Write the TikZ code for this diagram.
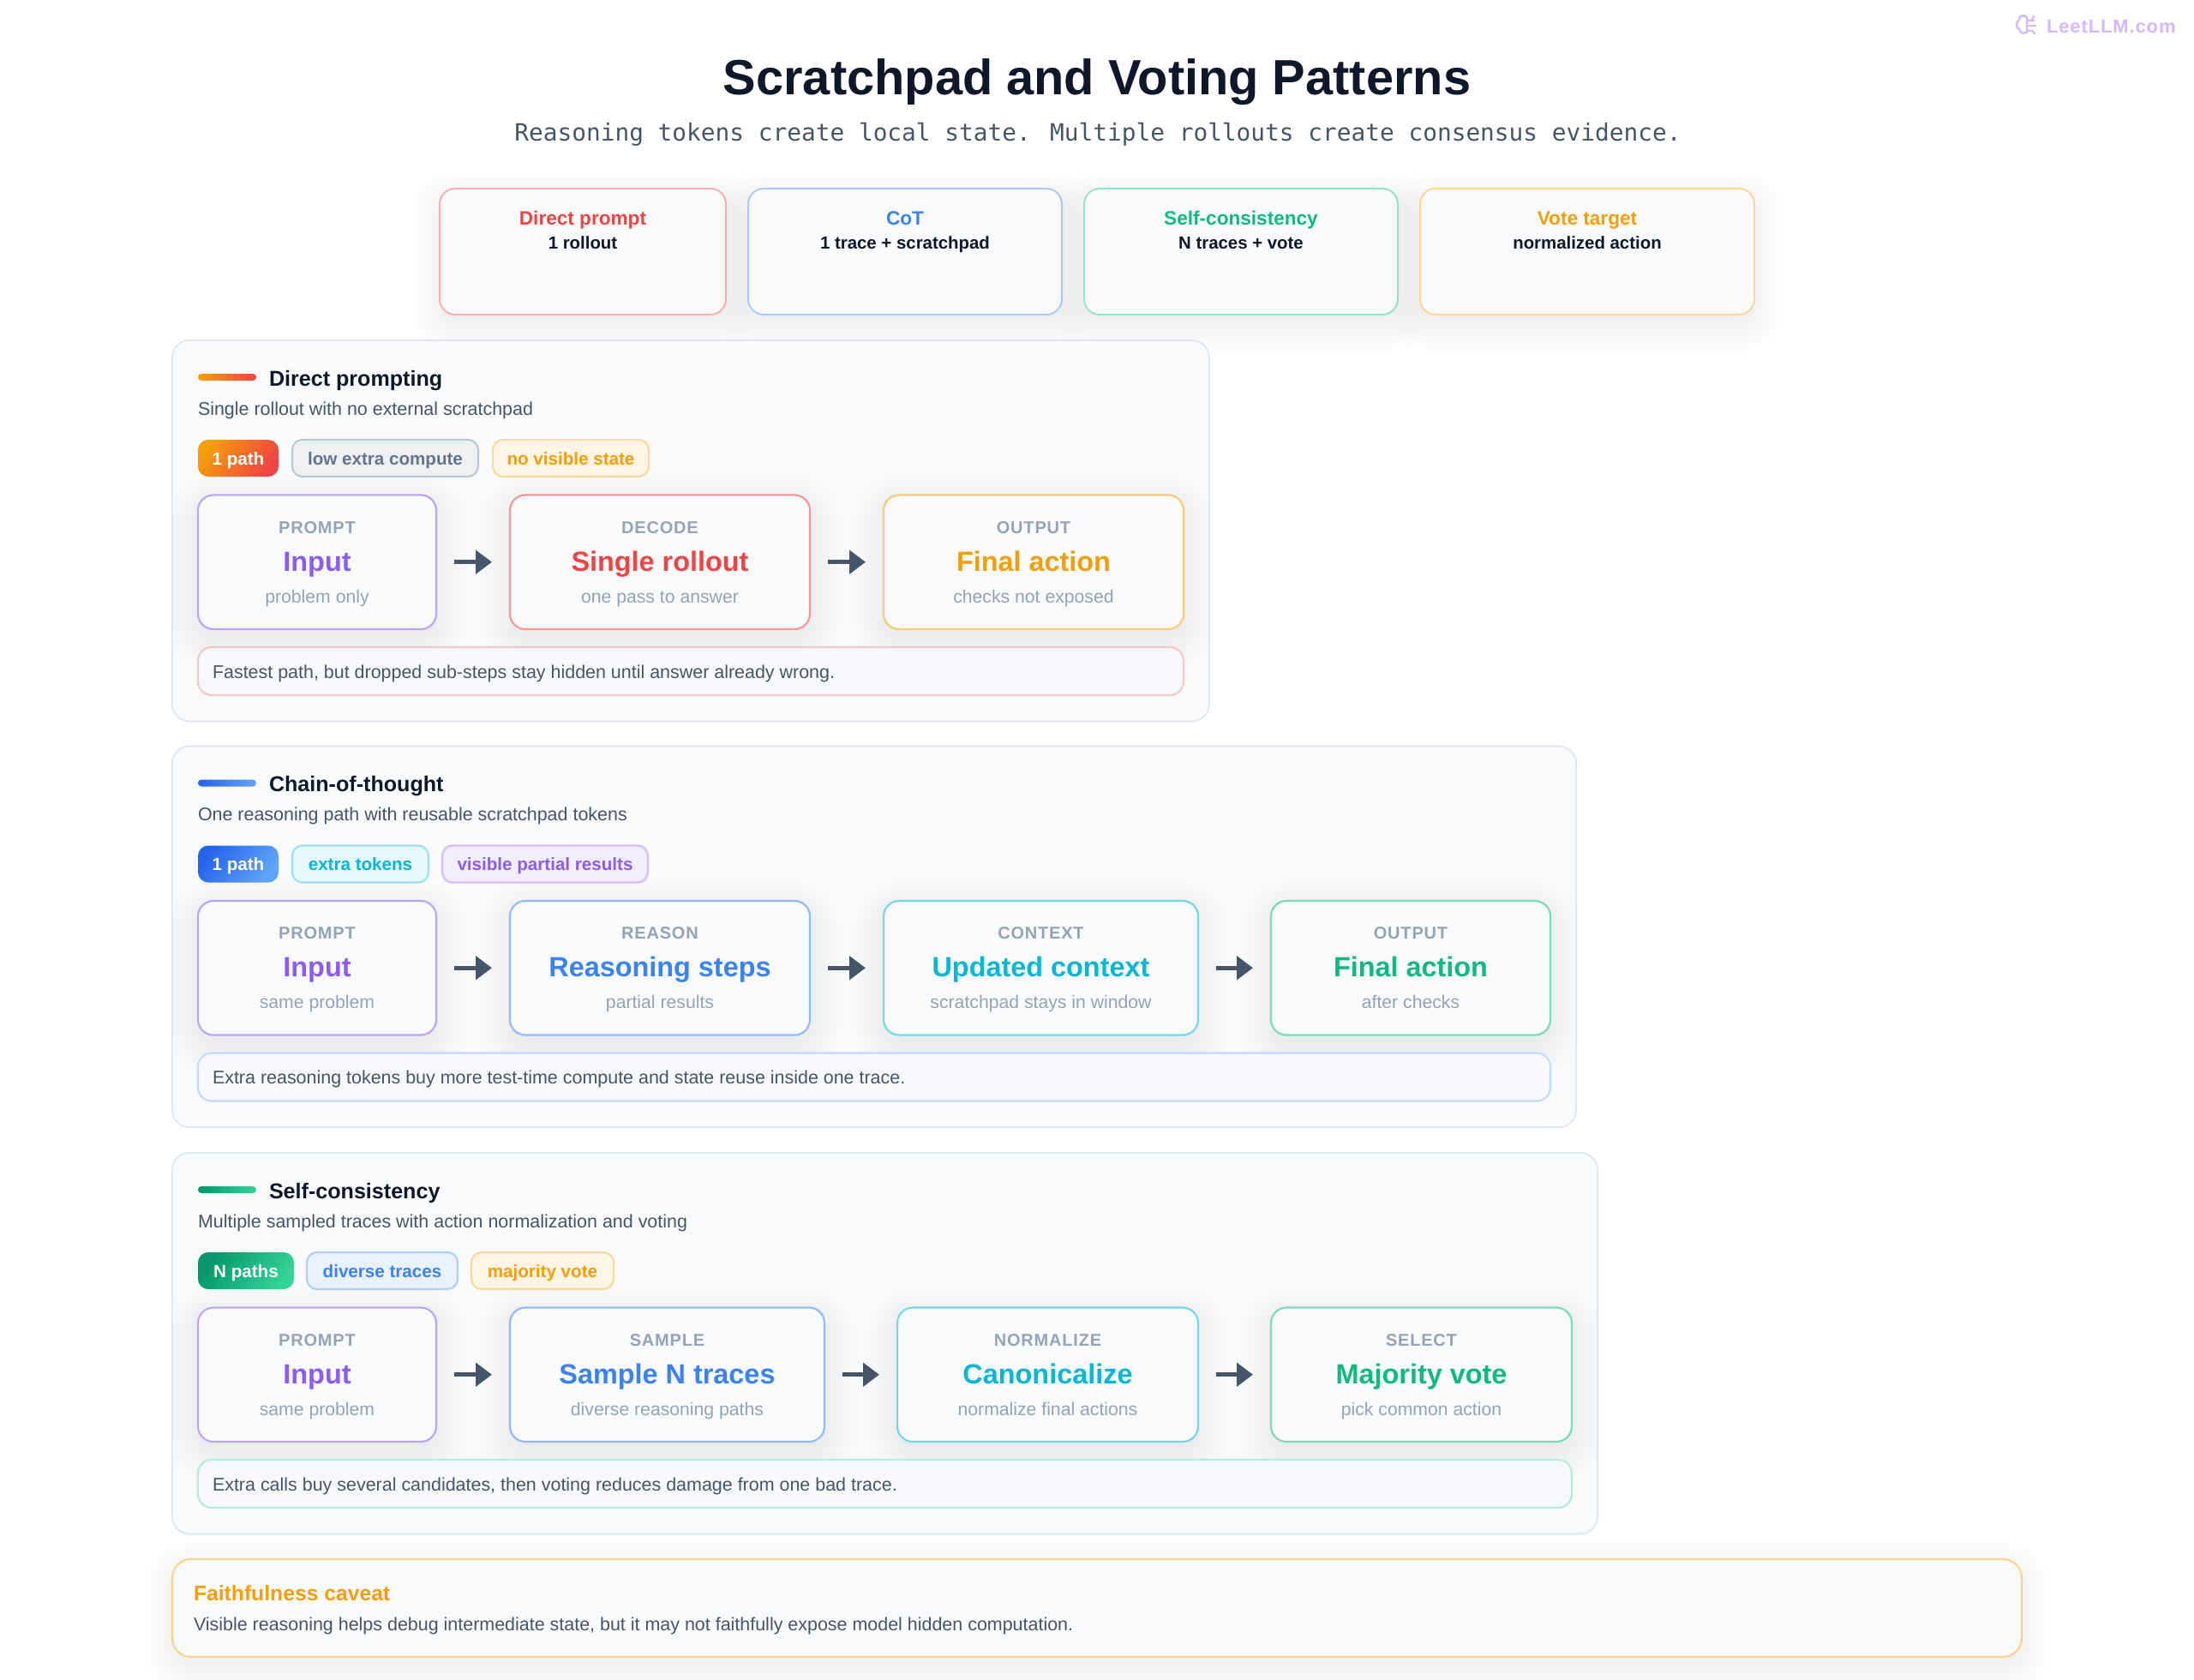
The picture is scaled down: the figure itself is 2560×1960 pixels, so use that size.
\documentclass[tikz,border=0pt]{standalone}
\usepackage{fontspec}
\setmainfont{Liberation Sans}
\newfontfamily\monof{DejaVu Sans Mono}
\newfontfamily\labelf[LetterSpace=4]{Liberation Sans}
\usetikzlibrary{arrows.meta}
\definecolor{ink}{HTML}{0F172A}
\definecolor{slatet}{HTML}{475569}
\definecolor{mutedt}{HTML}{94A3B8}
\definecolor{cardbg}{HTML}{F8FAFC}
\definecolor{notebg}{HTML}{F6F8FB}
\definecolor{panelln}{HTML}{E2E8F0}
\definecolor{cviolet}{HTML}{8B5CF6}
\definecolor{cred}{HTML}{EF4444}
\definecolor{cblue}{HTML}{3B82F6}
\definecolor{ccyan}{HTML}{06B6D4}
\definecolor{cgreen}{HTML}{10B981}
\definecolor{camber}{HTML}{F59E0B}
\definecolor{cgray}{HTML}{64748B}
\definecolor{logoc}{HTML}{D3B8FD}
\definecolor{gblue}{HTML}{2563EB}
\definecolor{gbluel}{HTML}{60A5FA}
\definecolor{ggreen}{HTML}{059669}
\definecolor{ggreenl}{HTML}{34D399}
\newcommand\fs[1]{\fontsize{#1}{#1}\selectfont}
\tikzset{
  x=1pt,y=-1pt,
  boxbase/.style={rectangle,outer sep=0pt,inner sep=0pt,fill=cardbg},
  txt/.style={inner sep=0pt,outer sep=0pt,anchor=base},
  txtl/.style={inner sep=0pt,outer sep=0pt,anchor=base west},
  flow/.style={line width=5pt,draw=slatet,shorten <=21pt,shorten >=21pt,
    -{Triangle[length=19pt,width=27pt]}},
  shadowlayer/.style={fill=ink,opacity=.0042},
}
% soft shadow: x1 y1 x2 y2 radius
\newcommand\softshadow[5]{%
  \foreach \e in {36,33,...,-6}{%
    \pgfmathsetmacro\rr{max(2,#5+\e)}%
    \fill[shadowlayer,rounded corners=\rr pt]
      ({#1-\e},{#2-\e+12}) rectangle ({#3+\e},{#4+\e+12});
  }%
}
% name x1 y1 x2 y2 radius style
\newcommand\rbox[7]{%
  \node[boxbase,rounded corners=#6pt,minimum width={((#4)-(#2))*1pt},minimum height={((#5)-(#3))*1pt},#7]
    (#1) at ({((#2)+(#4))/2},{((#3)+(#5))/2}) {};%
}
% top legend: name x1 x2 col head sub
\newcommand\legend[6]{%
  \softshadow{#2}{220}{#3}{367}{18}%
  \rbox{#1}{#2}{220}{#3}{367}{18}{draw=#4!42!white,line width=2pt}%
  \node[txt,font=\bfseries\fs{22.6},text=#4] (#1h) at ({(#2+#3)/2},262) {#5};%
  \node[txt,font=\bfseries\fs{20.4},text=ink] (#1s) at ({(#2+#3)/2},290) {#6};%
}
% flow box: name x1 x2 y0 col label main sub
\newcommand\flowbox[8]{%
  \softshadow{#2}{#4+180}{#3}{#4+336}{18}%
  \rbox{#1}{#2}{#4+180.5}{#3}{#4+337}{18}{draw=#5!55!white,line width=2.2pt}%
  \node[txt,font=\labelf\bfseries\fs{20},text=mutedt] (#1a) at ({(#2+#3)/2},{#4+225}) {#6};%
  \node[txt,font=\bfseries\fs{32.4},text=#5] (#1b) at ({(#2+#3)/2},{#4+269}) {#7};%
  \node[txt,font=\fs{21.2},text=mutedt] (#1c) at ({(#2+#3)/2},{#4+306}) {#8};%
}
% outlined chip: name x1 x2 y0 col text
\newcommand\chip[6]{%
  \rbox{#1}{#2}{#4+116}{#3}{#4+159}{12}{fill=#5!11!white,draw=#5!40!white,line width=2.2pt}%
  \node[txt,font=\bfseries\fs{20.6},text=#5] (#1t) at ({(#2+#3)/2},{#4+145}) {#6};%
}
% gradient chip: name x2 y0 colA colB text
\newcommand\gchip[6]{%
  \node[rectangle,outer sep=0pt,inner sep=0pt,rounded corners=12pt,minimum width={(#2-231)*1pt},minimum height=43pt,
     left color=#4,right color=#5,shading angle=55] (#1) at ({(231+#2)/2},{#3+137.5}) {};%
  \node[txt,font=\bfseries\fs{20.6},text=white] (#1t) at ({(231+#2)/2},{#3+145}) {#6};%
}
% panel header: name y0 x2 colA colB title subtitle
\newcommand\panelhead[7]{%
  \rbox{#1}{201}{#2}{#3}{#2+444.5}{20}{draw=panelln,line width=2pt}%
  \node[rectangle,outer sep=0pt,inner sep=0pt,rounded corners=4pt,minimum width=68pt,minimum height=8pt,
     left color=#4,right color=#5] (#1bar) at (265,{#2+43}) {};%
  \node[txtl,font=\bfseries\fs{25.1},text=ink] (#1t) at (314,{#2+53}) {#6};%
  \node[txtl,font=\fs{21.45},text=slatet] (#1s) at (231,{#2+87}) {#7};%
}
% note: name y0 x2 col text
\newcommand\note[5]{%
  \rbox{#1}{231}{#2+358}{#3}{#2+414}{16}{draw=#4!30!white,line width=2.2pt,fill=notebg}%
  \node[txtl,font=\fs{21.45},text=slatet] (#1t) at (248,{#2+394}) {#5};%
}
\begin{document}
\begin{tikzpicture}
\useasboundingbox (0,0) rectangle (2560,1960);
\fill[white] (0,0) rectangle (2560,1960);

% watermark
\node[txtl,font=\labelf\bfseries\fs{22},text=logoc] (logo) at (2388,38) {LeetLLM.com};
\begin{scope}[draw=logoc,line width=2.4pt,line cap=round,line join=round]
\draw (2365,20) .. controls (2360,16) and (2356,19) .. (2356,23)
      .. controls (2352,26) and (2352,32) .. (2356,34)
      .. controls (2357,39) and (2362,40) .. (2365,37) -- (2365,20);
\draw (2365,24) -- (2373,24) (2370,24) -- (2373,19);
\draw (2365,30) -- (2375,30);
\draw (2365,36) -- (2371,36) -- (2374,39);
\end{scope}

% title
\node[txt,font=\bfseries\fs{57.8},text=ink] (title) at (1280,110) {Scratchpad and Voting Patterns};
\node[txt,font=\monof\fs{27.8},text=slatet] (subtitle) at (1281,164) {Reasoning tokens create local state. Multiple rollouts create consensus evidence.};

% legend cards
\legend{lga}{513}{847}{cred}{Direct prompt}{1 rollout}
\legend{lgb}{873}{1239}{cblue}{CoT}{1 trace + scratchpad}
\legend{lgc}{1265}{1631}{cgreen}{Self-consistency}{N traces + vote}
\legend{lgd}{1657}{2047}{camber}{Vote target}{normalized action}

% Panel 1
\panelhead{pa}{397}{1411}{camber}{cred}{Direct prompting}{Single rollout with no external scratchpad}
\gchip{pac}{325}{397}{camber}{cred}{1 path}
\chip{pad}{341}{558}{397}{cgray}{low extra compute}
\chip{pae}{575}{757}{397}{camber}{no visible state}
\flowbox{aa}{231}{509}{397}{cviolet}{PROMPT}{Input}{problem only}
\flowbox{ab}{595}{945}{397}{cred}{DECODE}{Single rollout}{one pass to answer}
\flowbox{ac}{1031}{1381}{397}{camber}{OUTPUT}{Final action}{checks not exposed}
\draw[flow] (aa.east) -- (ab.west);
\draw[flow] (ab.east) -- (ac.west);
\note{pan}{397}{1381}{cred}{Fastest path, but dropped sub-steps stay hidden until answer already wrong.}

% Panel 2
\panelhead{pb}{870.5}{1839}{gblue}{gbluel}{Chain-of-thought}{One reasoning path with reusable scratchpad tokens}
\gchip{pbc}{325}{870.5}{gblue}{gbluel}{1 path}
\chip{pbd}{341}{500}{870.5}{ccyan}{extra tokens}
\chip{pbe}{516}{756}{870.5}{cviolet}{visible partial results}
\flowbox{ba}{231}{509}{870.5}{cviolet}{PROMPT}{Input}{same problem}
\flowbox{bb}{595}{945}{870.5}{cblue}{REASON}{Reasoning steps}{partial results}
\flowbox{bc}{1031}{1398}{870.5}{ccyan}{CONTEXT}{Updated context}{scratchpad stays in window}
\flowbox{bd}{1483}{1809}{870.5}{cgreen}{OUTPUT}{Final action}{after checks}
\draw[flow] (ba.east) -- (bb.west);
\draw[flow] (bb.east) -- (bc.west);
\draw[flow] (bc.east) -- (bd.west);
\note{pbn}{870.5}{1809}{cblue}{Extra reasoning tokens buy more test-time compute and state reuse inside one trace.}

% Panel 3
\panelhead{pc}{1345}{1864}{ggreen}{ggreenl}{Self-consistency}{Multiple sampled traces with action normalization and voting}
\gchip{pcc}{343}{1345}{ggreen}{ggreenl}{N paths}
\chip{pcd}{358}{534}{1345}{cblue}{diverse traces}
\chip{pce}{550}{716}{1345}{camber}{majority vote}
\flowbox{ca}{231}{509}{1345}{cviolet}{PROMPT}{Input}{same problem}
\flowbox{cb}{595}{962}{1345}{cblue}{SAMPLE}{Sample N traces}{diverse reasoning paths}
\flowbox{cc}{1047}{1398}{1345}{ccyan}{NORMALIZE}{Canonicalize}{normalize final actions}
\flowbox{cd}{1483}{1834}{1345}{cgreen}{SELECT}{Majority vote}{pick common action}
\draw[flow] (ca.east) -- (cb.west);
\draw[flow] (cb.east) -- (cc.west);
\draw[flow] (cc.east) -- (cd.west);
\note{pcn}{1345}{1834}{cgreen}{Extra calls buy several candidates, then voting reduces damage from one bad trace.}

% Caveat
\softshadow{201}{1819}{2359}{1933}{22}
\rbox{cav}{201}{1819}{2359}{1933}{22}{draw=camber!45!white,line width=2.2pt}
\node[txtl,font=\bfseries\fs{24.7},text=camber] (cavt) at (226,1867) {Faithfulness caveat};
\node[txtl,font=\fs{21.45},text=slatet] (cavs) at (226,1902) {Visible reasoning helps debug intermediate state, but it may not faithfully expose model hidden computation.};
\end{tikzpicture}
\end{document}
